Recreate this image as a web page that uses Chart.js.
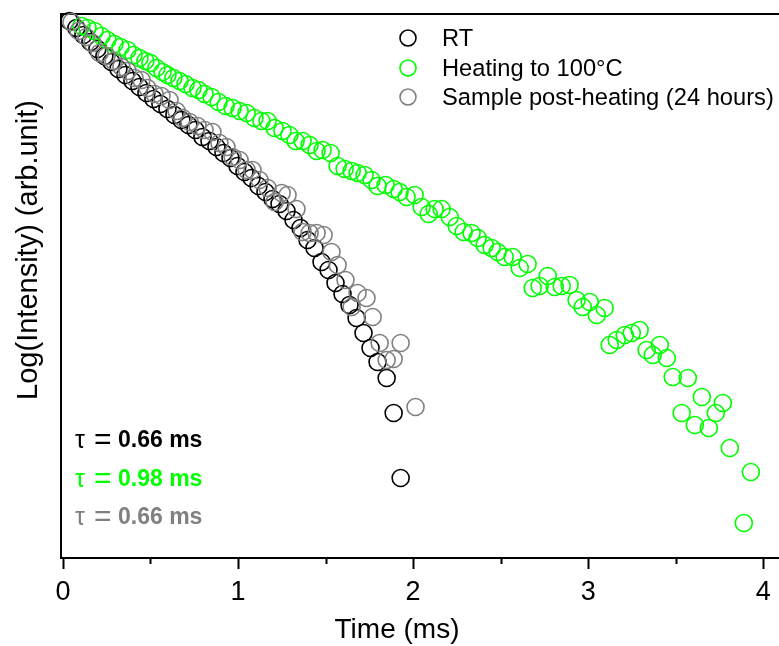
<!DOCTYPE html>
<html>
<head>
<meta charset="utf-8">
<script src="https://cdn.jsdelivr.net/npm/chart.js@4.4.1/dist/chart.umd.min.js"></script>
<style>
  html, body { margin: 0; padding: 0; background: #ffffff; overflow: hidden; }
  #wrap { position: relative; width: 779px; height: 646px; }
</style>
</head>
<body>
<div id="wrap"><canvas id="decay"></canvas></div>
<script>
// time (ms) and log intensity (arb. unit)
const rtTime = [0.037, 0.077, 0.117, 0.157, 0.197, 0.237, 0.277, 0.317, 0.357, 0.397,
    0.437, 0.477, 0.517, 0.557, 0.597, 0.637, 0.677, 0.717, 0.757, 0.797,
    0.837, 0.877, 0.917, 0.957, 0.997, 1.037, 1.077, 1.117, 1.157, 1.197,
    1.237, 1.277, 1.317, 1.357, 1.397, 1.437, 1.477, 1.517, 1.557, 1.597,
    1.637, 1.677, 1.717, 1.757, 1.797, 1.849, 1.889, 1.929];
const rtLog = [0.01, -0.06, -0.13, -0.20, -0.27, -0.34, -0.40, -0.47, -0.53, -0.59,
    -0.65, -0.71, -0.77, -0.82, -0.87, -0.93, -0.98, -1.03, -1.08, -1.15,
    -1.19, -1.25, -1.31, -1.36, -1.44, -1.50, -1.56, -1.64, -1.70, -1.77,
    -1.82, -1.89, -1.98, -2.06, -2.18, -2.26, -2.40, -2.48, -2.61, -2.72,
    -2.83, -2.96, -3.11, -3.26, -3.40, -3.56, -3.91, -4.56];

const heatTime = [0.106, 0.140, 0.180, 0.220, 0.254, 0.294, 0.329, 0.369, 0.403, 0.437,
    0.471, 0.500, 0.534, 0.569, 0.597, 0.631, 0.666, 0.700, 0.740, 0.774,
    0.809, 0.849, 0.889, 0.929, 0.969, 1.009, 1.049, 1.094, 1.134, 1.169,
    1.209, 1.254, 1.294, 1.329, 1.369, 1.409, 1.449, 1.483, 1.529, 1.569,
    1.609, 1.649, 1.683, 1.723, 1.763, 1.797, 1.843, 1.889, 1.923, 1.963,
    2.009, 2.049, 2.089, 2.123, 2.163, 2.209, 2.249, 2.289, 2.334, 2.369,
    2.409, 2.449, 2.483, 2.523, 2.569, 2.609, 2.654, 2.683, 2.723, 2.769,
    2.809, 2.849, 2.894, 2.934, 2.969, 3.009, 3.049, 3.094, 3.123, 3.163,
    3.209, 3.249, 3.294, 3.334, 3.369, 3.409, 3.449, 3.483, 3.534, 3.569,
    3.609, 3.649, 3.689, 3.729, 3.769, 3.809, 3.889, 3.929];
const heatLog = [-0.04, -0.06, -0.09, -0.14, -0.18, -0.22, -0.25, -0.28, -0.33, -0.36,
    -0.39, -0.41, -0.46, -0.50, -0.53, -0.56, -0.59, -0.62, -0.66, -0.68,
    -0.72, -0.75, -0.80, -0.84, -0.86, -0.89, -0.91, -0.96, -0.99, -0.99,
    -1.06, -1.09, -1.13, -1.19, -1.19, -1.23, -1.29, -1.28, -1.31, -1.44,
    -1.47, -1.49, -1.51, -1.53, -1.58, -1.64, -1.63, -1.67, -1.70, -1.75,
    -1.73, -1.85, -1.92, -1.87, -1.87, -1.95, -2.04, -2.10, -2.11, -2.16,
    -2.23, -2.26, -2.30, -2.35, -2.35, -2.46, -2.42, -2.66, -2.64, -2.54,
    -2.65, -2.64, -2.63, -2.78, -2.85, -2.80, -2.93, -2.86, -3.23, -3.18,
    -3.13, -3.11, -3.08, -3.28, -3.33, -3.23, -3.36, -3.55, -3.91, -3.56,
    -4.03, -3.75, -4.06, -3.91, -3.81, -4.26, -5.01, -4.50];

const postTime = [0.049, 0.089, 0.134, 0.169, 0.209, 0.249, 0.289, 0.334, 0.369, 0.409,
    0.449, 0.483, 0.523, 0.563, 0.609, 0.649, 0.683, 0.723, 0.769, 0.809,
    0.854, 0.894, 0.934, 0.969, 1.009, 1.049, 1.083, 1.123, 1.169, 1.209,
    1.249, 1.283, 1.334, 1.369, 1.409, 1.449, 1.489, 1.534, 1.569, 1.614,
    1.649, 1.683, 1.734, 1.769, 1.809, 1.849, 1.889, 1.929, 2.014];
const postLog = [0.00, -0.09, -0.15, -0.21, -0.31, -0.34, -0.39, -0.45, -0.49, -0.56,
    -0.58, -0.66, -0.72, -0.74, -0.78, -0.89, -0.96, -1.00, -1.04, -1.08,
    -1.10, -1.21, -1.25, -1.35, -1.38, -1.48, -1.48, -1.58, -1.66, -1.80,
    -1.71, -1.73, -1.87, -2.10, -2.11, -2.11, -2.13, -2.30, -2.43, -2.58,
    -2.85, -2.71, -2.76, -2.95, -3.21, -3.38, -3.37, -3.21, -3.85];

const xTicks = [0, 0.5, 1, 1.5, 2, 2.5, 3, 3.5, 4];
const seriesNames = ['RT', 'Heating to 100°C', 'Sample post-heating (24 hours)'];
const lifetimes = ['0.66 ms', '0.98 ms', '0.66 ms'];
const seriesColors = ['#000000', '#00ff00', '#808080'];

const FONT = "'Liberation Sans', Arial, sans-serif";

function pts(xs, ys) {
    return xs.map((x, i) => ({ x: x, y: ys[i] }));
}

function series(i, xs, ys, order) {
    return {
        label: seriesNames[i],
        data: pts(xs, ys),
        borderColor: seriesColors[i],
        backgroundColor: 'rgba(0,0,0,0)',
        pointRadius: 8.5,
        pointHoverRadius: 8.5,
        pointBorderWidth: 1.6,
        showLine: false,
        clip: false,
        order: order
    };
}

// frame, tick marks, titles, legend and lifetime notes
const decorations = {
    id: 'decorations',
    beforeDatasetsDraw(chart) {
        const { ctx, chartArea: a, scales } = chart;
        ctx.save();
        ctx.strokeStyle = '#000';
        ctx.lineWidth = 2;
        ctx.beginPath();
        ctx.moveTo(a.left, a.top);
        ctx.lineTo(a.right, a.top);
        ctx.moveTo(a.left, a.top - 1);
        ctx.lineTo(a.left, a.bottom + 1);
        ctx.moveTo(a.left, a.bottom);
        ctx.lineTo(a.right, a.bottom);
        xTicks.forEach(v => {
            const px = Math.round(scales.x.getPixelForValue(v)) + 0.5;
            const len = Number.isInteger(v) ? 11 : 6;
            ctx.moveTo(px, a.bottom);
            ctx.lineTo(px, a.bottom + len);
        });
        ctx.stroke();
        ctx.restore();
    },
    afterDraw(chart) {
        const { ctx } = chart;
        ctx.save();
        ctx.fillStyle = '#000';
        ctx.font = '28px ' + FONT;
        ctx.textAlign = 'center';
        ctx.textBaseline = 'alphabetic';
        ctx.fillText('Time (ms)', 397, 638);

        ctx.translate(37, 250);
        ctx.rotate(-Math.PI / 2);
        ctx.font = '29px ' + FONT;
        ctx.fillText('Log(Intensity) (arb.unit)', 0, 0);
        ctx.restore();

        // legend
        ctx.save();
        ctx.font = '23.7px ' + FONT;
        ctx.textAlign = 'left';
        ctx.textBaseline = 'middle';
        const legendY = [38, 68, 97];
        seriesNames.forEach((name, i) => {
            ctx.strokeStyle = seriesColors[i];
            ctx.lineWidth = 1.6;
            ctx.beginPath();
            ctx.arc(408, legendY[i], 8, 0, Math.PI * 2);
            ctx.stroke();
            ctx.fillStyle = '#000';
            ctx.fillText(name, 442, legendY[i] + 1);
        });

        // lifetime notes
        const tauY = [441, 480, 518];
        lifetimes.forEach((t, i) => {
            ctx.fillStyle = seriesColors[i];
            ctx.font = '25px ' + FONT;
            ctx.fillText('\u03c4', 75, tauY[i]);
            ctx.font = '30px ' + FONT;
            ctx.fillText('=', 94, tauY[i]);
            ctx.font = 'bold 23px ' + FONT;
            ctx.fillText(t, 118, tauY[i]);
        });
        ctx.restore();
    }
};

new Chart(document.getElementById('decay'), {
    type: 'scatter',
    data: {
        datasets: [
            series(0, rtTime, rtLog, 3),
            series(1, heatTime, heatLog, 2),
            series(2, postTime, postLog, 1)
        ]
    },
    options: {
        responsive: true,
        maintainAspectRatio: false,
        animation: false,
        layout: { autoPadding: false, padding: { top: 14, left: 0, right: 0, bottom: 0 } },
        plugins: {
            legend: { display: false },
            tooltip: { enabled: false }
        },
        scales: {
            x: {
                type: 'linear',
                min: -0.011,
                max: 4.09,
                afterBuildTicks: s => { s.ticks = xTicks.map(v => ({ value: v })); },
                afterFit: s => { s.height = 88; s.paddingLeft = 0; s.paddingRight = 0; },
                grid: { display: false, drawTicks: false },
                border: { display: false },
                ticks: {
                    autoSkip: false,
                    maxRotation: 0,
                    padding: 18,
                    color: '#000',
                    font: { family: FONT, size: 27 },
                    callback: v => Number.isInteger(v) ? String(v) : ''
                }
            },
            y: {
                type: 'linear',
                min: -5.36,
                max: 0.08,
                afterFit: s => { s.width = 61; },
                grid: { display: false, drawTicks: false },
                border: { display: false },
                ticks: { display: false }
            }
        }
    },
    plugins: [decorations]
});
</script>
</body>
</html>
